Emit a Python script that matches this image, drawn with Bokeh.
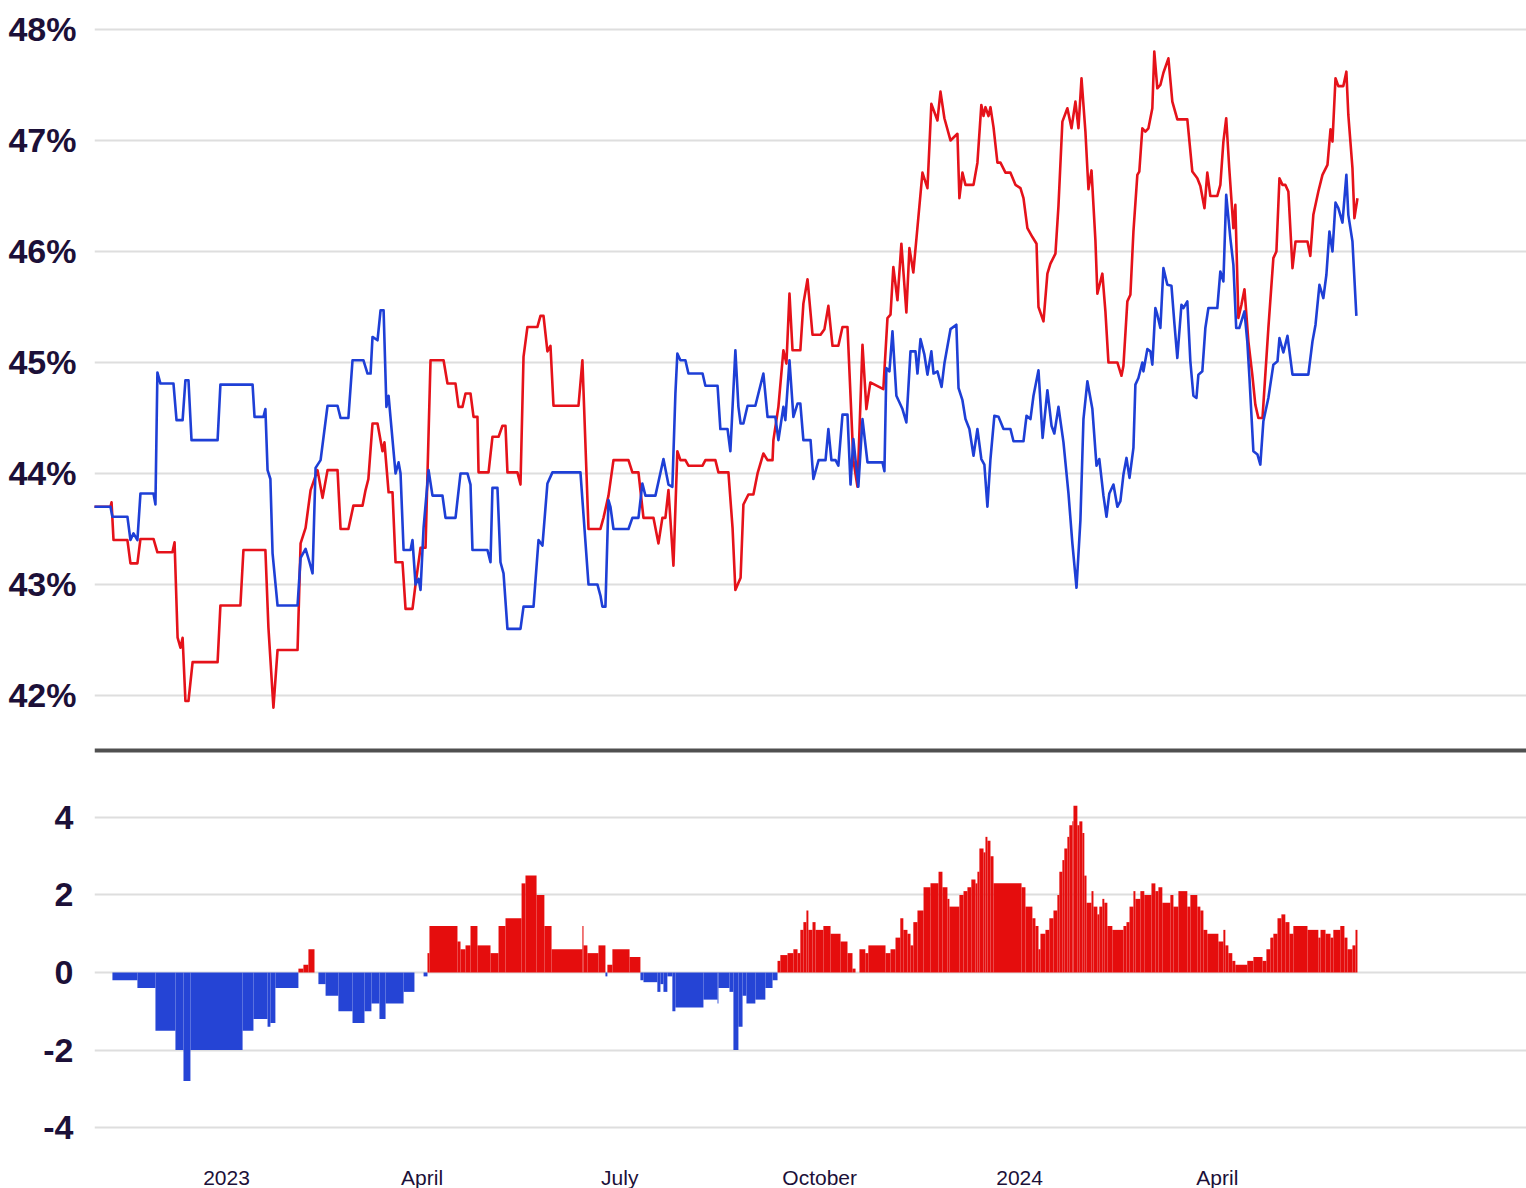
from bokeh.plotting import figure
from bokeh.models import ColumnDataSource, FixedTicker, Span, Range1d
from bokeh.layouts import column
from bokeh.embed import file_html
from bokeh.resources import INLINE

# ---- data (x = days since 2023-01-01) ----
red_days = [-61.2, -53.4, -52.9, -52.0, -45.6, -44.2, -41.0, -39.6, -33.6, -31.8, -24.9, -23.9, -22.5, -21.2,
            -20.2, -18.9, -17.5, -15.6, -4.1, -2.8, 6.4, 7.8, 17.9, 19.3, 21.6, 23.5, 32.7, 34.1, 36.4, 38.7,
            41.9, 44.2, 46.5, 51.1, 52.5, 56.1, 58.4, 62.6, 64.0, 65.3, 67.2, 69.5, 71.8, 72.7, 74.6, 76.4,
            77.8, 81.0, 82.4, 85.6, 87.0, 89.3, 91.6, 93.9, 99.9, 101.7, 105.4, 106.8, 108.6, 110.0, 112.3,
            113.7, 115.5, 116.0, 120.6, 122.4, 125.2, 127.0, 128.4, 129.3, 133.9, 135.3, 136.7, 138.5, 143.1,
            144.5, 145.9, 147.7, 149.1, 150.5, 162.0, 163.8, 166.6, 172.1, 173.5, 175.8, 178.1, 185.0, 186.8,
            189.6, 191.9, 196.5, 198.8, 200.6, 202.0, 203.4, 205.7, 207.5, 208.9, 211.2, 212.6, 219.1, 220.4,
            225.0, 226.4, 231.0, 232.9, 234.2, 236.6, 237.9, 240.2, 242.5, 244.4, 247.1, 249.0, 251.3, 251.7,
            254.0, 256.3, 257.7, 259.1, 260.5, 264.1, 265.5, 267.4, 269.7, 273.4, 275.2, 277.0, 278.9, 281.6,
            283.5, 285.8, 288.5, 290.4, 292.7, 294.5, 296.3, 302.3, 304.2, 305.6, 306.9, 308.8, 310.6, 312.9,
            314.3, 316.1, 320.3, 322.6, 324.4, 327.2, 328.6, 330.4, 333.2, 336.4, 337.3, 338.7, 340.1, 343.8,
            345.6, 347.4, 348.4, 349.3, 350.7, 351.6, 353.0, 354.8, 356.2, 358.5, 360.8, 363.1, 365.4, 366.8,
            368.6, 370.9, 372.8, 373.7, 376.0, 377.8, 379.2, 381.5, 382.9, 384.7, 387.0, 388.9, 390.7, 392.1,
            393.5, 395.3, 396.7, 398.1, 399.9, 400.8, 403.1, 404.5, 405.9, 410.0, 411.9, 412.8, 414.6, 416.0,
            417.4, 419.2, 420.1, 421.5, 422.9, 424.3, 426.1, 427.0, 428.4, 429.8, 431.2, 433.5, 435.3, 437.6,
            442.2, 444.5, 446.8, 448.2, 450.1, 451.4, 452.8, 456.0, 457.4, 458.8, 460.1, 461.5, 463.4, 464.3,
            465.7, 467.1, 468.5, 470.3, 472.1, 473.5, 474.9, 476.8, 478.1, 479.5, 481.8, 483.2, 484.6, 486.0,
            487.3, 488.7, 490.6, 492.0, 497.5, 498.8, 500.2, 502.5, 504.4, 506.7, 508.1, 509.0, 510.4, 511.7,
            514.0, 515.4, 516.3, 518.2, 519.1, 520.5]
red_pct = [43.70, 43.70, 43.74, 43.40, 43.40, 43.19, 43.19, 43.41, 43.41, 43.29, 43.29, 43.38, 42.52, 42.43,
           42.52, 41.95, 41.95, 42.30, 42.30, 42.81, 42.81, 43.31, 43.31, 42.61, 41.89, 42.41, 42.41, 43.37,
           43.51, 43.85, 44.03, 43.78, 44.03, 44.03, 43.50, 43.50, 43.71, 43.71, 43.85, 43.95, 44.45, 44.45,
           44.20, 44.28, 43.83, 43.83, 43.20, 43.20, 42.78, 42.78, 43.00, 43.33, 43.33, 45.02, 45.02, 44.81,
           44.81, 44.60, 44.60, 44.72, 44.72, 44.51, 44.51, 44.01, 44.01, 44.33, 44.33, 44.43, 44.43, 44.01,
           44.01, 43.90, 45.05, 45.32, 45.32, 45.42, 45.42, 45.10, 45.15, 44.61, 44.61, 45.02, 43.50, 43.50,
           43.60, 43.80, 44.12, 44.12, 44.01, 44.01, 43.60, 43.60, 43.37, 43.60, 43.60, 43.85, 43.17, 44.20,
           44.12, 44.12, 44.07, 44.07, 44.12, 44.12, 44.01, 44.01, 43.51, 42.95, 43.06, 43.72, 43.81, 43.81,
           44.00, 44.18, 44.12, 44.12, 44.30, 44.60, 45.11, 44.99, 45.62, 45.11, 45.11, 45.53, 45.75, 45.25,
           45.25, 45.30, 45.51, 45.15, 45.15, 45.32, 45.32, 44.12, 43.88, 45.16, 44.58, 44.82, 44.76, 45.40,
           45.43, 45.86, 45.56, 46.07, 45.45, 46.03, 45.81, 46.71, 46.57, 47.33, 47.18, 47.44, 47.20, 47.00,
           47.06, 46.48, 46.71, 46.60, 46.60, 46.80, 47.32, 47.22, 47.30, 47.22, 47.30, 47.12, 46.80, 46.80,
           46.71, 46.71, 46.60, 46.57, 46.48, 46.21, 46.13, 46.07, 45.50, 45.37, 45.80, 45.89, 45.98, 46.41,
           47.17, 47.29, 47.11, 47.35, 47.11, 47.56, 47.08, 46.56, 46.73, 46.10, 45.62, 45.80, 45.46, 45.00,
           45.00, 44.88, 44.97, 45.55, 45.61, 46.18, 46.69, 46.72, 47.11, 47.08, 47.11, 47.29, 47.80, 47.47,
           47.50, 47.61, 47.74, 47.35, 47.19, 47.19, 46.72, 46.66, 46.59, 46.39, 46.71, 46.50, 46.50, 46.60,
           46.99, 47.20, 46.75, 46.21, 46.42, 45.40, 45.52, 45.66, 45.19, 44.89, 44.62, 44.50, 44.50, 44.89,
           45.31, 45.94, 46.00, 46.66, 46.60, 46.60, 46.54, 45.85, 46.09, 46.09, 45.96, 46.33, 46.54, 46.69,
           46.78, 47.10, 46.99, 47.56, 47.49, 47.49, 47.62, 47.23, 46.75, 46.30, 46.48]

blue_days = [-61.2, -53.4, -52.5, -45.6, -44.2, -42.8, -41.0, -39.6, -33.6, -32.7, -31.8, -30.4, -24.4, -23.0,
             -20.2, -18.9, -17.5, -16.1, -4.1, -2.8, 12.0, 12.9, 17.0, 17.9, 18.9, 20.2, 21.2, 23.5, 32.7,
             34.1, 36.4, 38.2, 39.6, 41.0, 43.3, 46.5, 51.1, 52.5, 56.1, 58.0, 63.0, 64.9, 66.3, 67.2, 69.5,
             70.9, 72.3, 73.6, 74.6, 75.5, 77.8, 79.2, 80.1, 81.5, 84.7, 85.6, 87.0, 88.4, 89.3, 90.7, 93.0,
             94.8, 99.4, 100.8, 105.4, 107.7, 110.9, 112.3, 113.2, 120.1, 121.5, 122.4, 124.7, 126.1, 127.5,
             129.3, 135.3, 136.7, 141.3, 143.6, 145.4, 147.7, 150.0, 162.9, 166.6, 170.7, 172.1, 173.0, 174.4,
             175.8, 176.7, 178.1, 185.0, 186.8, 189.6, 191.4, 192.8, 197.4, 201.1, 203.4, 205.2, 206.6, 207.5,
             208.9, 211.2, 212.6, 219.1, 220.4, 226.0, 227.3, 230.6, 231.9, 234.2, 235.6, 236.6, 237.9, 239.8,
             243.4, 244.8, 247.1, 249.0, 252.6, 254.0, 256.3, 257.2, 259.1, 260.9, 262.8, 264.1, 265.5, 268.8,
             270.1, 272.5, 275.7, 277.0, 278.4, 280.3, 281.6, 283.5, 285.8, 287.2, 288.5, 290.8, 292.7, 295.0,
             301.9, 302.8, 303.7, 305.1, 306.5, 308.3, 311.1, 312.9, 314.8, 317.1, 318.0, 319.4, 321.2, 322.6,
             324.4, 325.4, 327.2, 329.1, 330.4, 333.2, 335.9, 336.9, 338.7, 340.1, 341.9, 343.8, 345.6, 347.4,
             348.8, 350.2, 351.6, 353.4, 355.3, 357.6, 360.8, 362.2, 366.8, 368.2, 370.0, 371.4, 373.7, 375.6,
             377.8, 379.7, 381.0, 382.9, 385.2, 387.5, 389.3, 391.2, 393.0, 394.4, 396.2, 398.5, 400.4, 401.7,
             403.6, 405.0, 406.3, 408.2, 410.0, 411.4, 412.8, 414.2, 415.6, 417.4, 418.3, 419.7, 421.5, 422.0,
             423.8, 425.2, 426.1, 427.5, 428.4, 429.8, 431.2, 433.0, 434.9, 436.3, 437.6, 439.5, 440.4, 442.2,
             443.6, 445.0, 446.4, 447.3, 449.1, 450.5, 451.9, 456.0, 457.4, 458.8, 460.1, 462.0, 463.4, 464.7,
             466.1, 468.5, 469.8, 470.8, 472.6, 474.5, 475.8, 477.2, 479.5, 481.8, 483.7, 484.6, 486.4, 488.3,
             490.6, 497.9, 499.8, 501.2, 503.0, 504.8, 506.2, 507.6, 509.0, 510.4, 511.7, 513.6, 515.4, 516.3,
             518.2, 520.0]
blue_pct = [43.70, 43.70, 43.61, 43.61, 43.40, 43.46, 43.40, 43.82, 43.82, 43.72, 44.91, 44.81, 44.81, 44.48,
            44.48, 44.84, 44.84, 44.30, 44.30, 44.80, 44.80, 44.51, 44.51, 44.58, 44.03, 43.95, 43.28, 42.81,
            42.81, 43.24, 43.32, 43.20, 43.10, 44.05, 44.12, 44.61, 44.61, 44.50, 44.50, 45.02, 45.02, 44.90,
            44.90, 45.23, 45.20, 45.47, 45.47, 44.60, 44.70, 44.50, 44.00, 44.10, 44.00, 43.31, 43.31, 43.40,
            43.00, 43.05, 42.95, 43.51, 44.03, 43.80, 43.80, 43.60, 43.60, 44.00, 44.00, 43.90, 43.31, 43.31,
            43.20, 43.87, 43.87, 43.20, 43.10, 42.60, 42.60, 42.80, 42.80, 43.40, 43.35, 43.91, 44.01, 44.01,
            43.00, 43.00, 42.90, 42.80, 42.80, 43.76, 43.70, 43.50, 43.50, 43.60, 43.60, 43.91, 43.80, 43.80,
            44.13, 43.90, 43.88, 44.72, 45.08, 45.02, 45.02, 44.90, 44.90, 44.79, 44.79, 44.40, 44.40, 44.20,
            45.11, 44.60, 44.45, 44.45, 44.61, 44.61, 44.72, 44.90, 44.51, 44.51, 44.30, 44.60, 44.48, 45.02,
            44.51, 44.63, 44.63, 44.30, 44.30, 43.95, 44.12, 44.12, 44.40, 44.12, 44.12, 44.07, 44.53, 44.53,
            43.90, 44.31, 43.88, 44.49, 44.10, 44.10, 44.02, 44.95, 44.92, 45.28, 44.70, 44.58, 44.46, 45.10,
            45.10, 44.90, 45.21, 45.07, 44.89, 45.10, 44.90, 44.92, 44.78, 44.99, 45.30, 45.34, 44.77, 44.66,
            44.49, 44.40, 44.16, 44.40, 44.13, 44.08, 43.70, 44.13, 44.52, 44.51, 44.40, 44.40, 44.29, 44.29,
            44.52, 44.49, 44.70, 44.93, 44.32, 44.75, 44.43, 44.36, 44.60, 44.28, 43.82, 43.37, 42.97, 43.58,
            44.49, 44.83, 44.58, 44.07, 44.13, 43.80, 43.61, 43.82, 43.90, 43.70, 43.75, 43.99, 44.14, 43.96,
            44.23, 44.80, 44.86, 45.00, 44.92, 45.12, 45.10, 44.98, 45.49, 45.43, 45.31, 45.85, 45.70, 45.69,
            45.34, 45.04, 45.52, 45.49, 45.55, 45.01, 44.70, 44.68, 44.89, 44.92, 45.31, 45.49, 45.49, 45.82,
            45.73, 46.51, 46.12, 45.88, 45.31, 45.31, 45.46, 45.19, 44.86, 44.20, 44.17, 44.08, 44.47, 44.68,
            44.98, 45.01, 45.22, 45.09, 45.24, 44.89, 44.89, 45.19, 45.34, 45.70, 45.58, 45.79, 46.18, 46.00,
            46.44, 46.39, 46.26, 46.69, 46.33, 46.09, 45.42]

# margin bars (red minus blue, points); runs from bar_start to bar_end
bar_start = [-52.5, -41.0, -32.7, -23.5, -19.8, -16.6, 7.4, 12.4, 18.9, 20.2, 22.5, 33.1, 35.4, 37.7, 42.3,
             45.6, 51.5, 58.0, 63.5, 66.7, 70.4, 73.2, 81.5, 90.7, 92.5, 93.4, 106.3, 107.7, 110.0, 112.3,
             115.5, 121.5, 125.2, 128.4, 135.8, 137.6, 142.7, 146.3, 149.6, 163.8, 164.3, 166.1, 171.2, 174.4,
             175.3, 177.6, 185.5, 190.5, 191.9, 198.3, 199.7, 201.1, 202.9, 205.2, 206.6, 219.5, 226.0, 226.4,
             231.5, 233.3, 235.6, 237.5, 239.3, 243.4, 248.0, 251.3, 253.6, 254.9, 258.2, 260.9, 262.8, 264.1,
             265.5, 266.9, 267.8, 269.7, 271.1, 274.7, 278.0, 282.6, 285.8, 288.1, 291.3, 294.0, 295.4, 303.3,
             305.6, 307.9, 310.1, 311.5, 313.4, 314.8, 316.1, 318.0, 320.8, 324.0, 327.7, 329.5, 331.8, 332.7,
             337.3, 339.2, 341.0, 342.8, 344.7, 345.6, 346.5, 348.4, 349.3, 350.2, 351.6, 353.0, 365.9, 367.7,
             370.9, 372.3, 373.7, 374.6, 376.9, 378.7, 380.6, 382.4, 383.3, 384.7, 385.6, 387.0, 387.9, 389.3,
             389.8, 391.6, 392.5, 393.9, 394.8, 395.8, 398.1, 399.0, 400.8, 401.7, 403.1, 404.0, 405.4, 407.7,
             412.8, 414.2, 415.6, 417.4, 418.3, 420.6, 422.4, 425.7, 427.5, 428.9, 430.7, 434.4, 435.8, 438.1,
             442.2, 443.6, 446.8, 448.2, 449.6, 451.4, 456.5, 458.8, 459.7, 461.1, 462.9, 464.3, 469.8, 472.6,
             476.8, 478.6, 480.4, 481.8, 483.7, 485.5, 487.3, 489.2, 491.0, 497.5, 502.5, 503.5, 505.8, 508.1,
             509.4, 512.6, 514.5, 515.9, 518.2, 519.6]
bar_end = [-41.0, -32.7, -23.5, -19.8, -16.6, 7.4, 12.4, 18.9, 20.2, 22.5, 33.1, 35.4, 37.7, 40.5, 45.6,
           51.5, 58.0, 63.5, 66.7, 70.4, 73.2, 81.5, 86.5, 92.5, 93.4, 106.3, 107.7, 110.0, 112.3, 115.5,
           121.5, 125.2, 128.4, 135.8, 137.6, 142.7, 146.3, 149.6, 163.8, 164.3, 166.1, 171.2, 174.4, 175.3,
           177.6, 185.5, 190.5, 191.9, 198.3, 199.7, 201.1, 202.9, 205.2, 206.6, 219.5, 226.0, 226.4, 231.5,
           233.3, 235.6, 237.5, 239.3, 243.4, 248.0, 251.3, 253.6, 254.9, 258.2, 260.9, 262.8, 264.1, 265.5,
           266.9, 267.8, 269.7, 271.1, 274.7, 278.0, 282.6, 285.8, 288.1, 289.5, 294.0, 295.4, 303.3, 305.6,
           307.9, 310.1, 311.5, 313.4, 314.8, 316.1, 318.0, 320.8, 324.0, 327.7, 329.5, 331.8, 332.7, 337.3,
           339.2, 341.0, 342.8, 344.7, 345.6, 346.5, 348.4, 349.3, 350.2, 351.6, 353.0, 365.9, 367.7, 370.9,
           372.3, 373.7, 374.6, 376.9, 378.7, 380.6, 382.4, 383.3, 384.7, 385.6, 387.0, 387.9, 389.3, 389.8,
           391.6, 392.5, 393.9, 394.8, 395.8, 398.1, 399.0, 400.8, 401.7, 403.1, 404.0, 405.4, 407.7, 412.8,
           414.2, 415.6, 417.4, 418.3, 420.6, 422.4, 425.7, 427.5, 428.9, 430.7, 434.4, 435.8, 438.1, 442.2,
           443.6, 446.8, 448.2, 449.6, 451.4, 456.5, 458.8, 459.7, 461.1, 462.9, 464.3, 469.8, 472.6, 476.8,
           478.6, 480.4, 481.8, 483.7, 485.5, 487.3, 489.2, 491.0, 497.5, 502.5, 503.5, 505.8, 508.1, 509.4,
           512.6, 514.5, 515.9, 518.2, 519.6, 520.5]
bar_margin = [-0.2, -0.4, -1.5, -2.0, -2.8, -2.0, -1.5, -1.2, -1.4, -1.3, -0.4, 0.1, 0.2, 0.6, -0.3,
              -0.6, -1.0, -1.3, -1.0, -0.8, -1.2, -0.8, -0.5, -0.1, 0.5, 1.2, 0.8, 0.6, 0.7, 1.2,
              0.7, 0.5, 1.2, 1.4, 2.3, 2.5, 2.0, 1.2, 0.6, 1.2, 0.7, 0.5, 0.7, -0.1,
              0.2, 0.6, 0.4, -0.2, -0.25, -0.5, -0.3, -0.5, -0.1, -1.0, -0.9, -0.7, -0.8, -0.4,
              -0.5, -2.0, -1.4, -0.6, -0.8, -0.7, -0.4, -0.2, 0.3, 0.45, 0.5, 0.6, 0.5, 1.1,
              1.3, 1.6, 1.1, 1.3, 1.1, 1.2, 1.0, 0.8, 0.5, 0.1, 0.6, 0.5, 0.7, 0.5,
              0.6, 0.9, 1.4, 1.1, 1.0, 0.7, 1.3, 1.6, 2.2, 2.3, 2.6, 2.2, 1.9, 1.7,
              2.0, 2.1, 2.2, 2.4, 2.3, 2.6, 3.2, 3.1, 3.5, 3.4, 3.0, 2.3, 2.2, 1.7,
              1.4, 1.2, 0.6, 1.0, 1.1, 1.4, 1.6, 2.0, 2.6, 2.9, 3.2, 3.5, 3.8, 3.9,
              4.3, 3.8, 3.9, 3.6, 2.5, 1.8, 2.1, 1.7, 1.5, 1.7, 1.9, 1.8, 1.2, 1.1,
              1.2, 1.3, 1.7, 2.1, 1.9, 2.1, 2.0, 2.3, 2.1, 2.2, 1.8, 2.0, 1.7, 2.1,
              1.7, 2.0, 1.7, 1.6, 1.1, 1.0, 0.8, 1.1, 0.7, 0.5, 0.3, 0.2, 0.3, 0.4,
              0.3, 0.6, 0.9, 1.0, 1.4, 1.5, 1.3, 1.0, 1.2, 1.1, 0.9, 1.1, 1.0, 0.9,
              1.1, 1.2, 0.9, 0.6, 0.7, 1.1]

month_ticks = [0, 90, 181, 273, 365, 456]
month_labels = ["2023", "April", "July", "October", "2024", "April"]
pct_ticks = [42, 43, 44, 45, 46, 47, 48]
margin_ticks = [-4, -2, 0, 2, 4]

# ---- styling ----
RED = "#e5121a"
BLUE = "#1e3fd6"
RED_BAR = "#e50d0d"
BLUE_BAR = "#2544d5"
TXT = "#1c1038"
GRID = "#dedede"
FONT = "Liberation Sans"

X0, X1 = -60.75, 598.3   # 1432 px frame


def style_common(p):
    p.outline_line_color = None
    p.background_fill_color = "white"
    p.border_fill_color = "white"
    p.xgrid.visible = False
    p.ygrid.grid_line_color = GRID
    p.ygrid.grid_line_width = 2
    for ax in p.yaxis:
        ax.axis_line_color = None
        ax.major_tick_line_color = None
        ax.minor_tick_line_color = None
        ax.major_label_text_font = FONT
        ax.major_label_text_font_style = "bold"
        ax.major_label_text_font_size = "34px"
        ax.major_label_text_color = TXT
        ax.major_label_standoff = 12


top = figure(frame_width=1432, frame_height=747, min_border_left=94, min_border_right=0,
             min_border_top=0, min_border_bottom=0,
             x_range=Range1d(X0, X1), y_range=Range1d(41.531, 48.261),
             output_backend="svg", toolbar_location=None)
style_common(top)
top.xaxis.visible = False
top.yaxis.ticker = FixedTicker(ticks=pct_ticks)
top.ygrid.ticker = FixedTicker(ticks=pct_ticks)
top.yaxis.major_label_overrides = {t: f"{t}%" for t in pct_ticks}

top.line(red_days, red_pct, line_color=RED, line_width=2.6, line_join="round")
top.line(blue_days, blue_pct, line_color=BLUE, line_width=2.6, line_join="round")

bot = figure(frame_width=1432, frame_height=393, min_border_left=94, min_border_right=0,
             min_border_top=0, min_border_bottom=0,
             x_range=Range1d(X0, X1), y_range=Range1d(-4.335, 5.806),
             output_backend="svg", toolbar_location=None)
style_common(bot)
bot.yaxis.ticker = FixedTicker(ticks=margin_ticks)
bot.ygrid.ticker = FixedTicker(ticks=margin_ticks)
bot.yaxis.major_label_overrides = {t: str(t) for t in margin_ticks}
bot.yaxis.major_label_standoff = 15

xa = bot.xaxis[0]
xa.ticker = FixedTicker(ticks=month_ticks)
xa.major_label_overrides = dict(zip(month_ticks, month_labels))
xa.axis_line_color = None
xa.major_tick_line_color = None
xa.minor_tick_line_color = None
xa.major_label_text_font = FONT
xa.major_label_text_font_size = "21px"
xa.major_label_text_color = TXT
xa.major_label_standoff = 19

bar_colors = [RED_BAR if m > 0 else BLUE_BAR for m in bar_margin]
src = ColumnDataSource(dict(left=bar_start, right=bar_end, top=bar_margin,
                            bottom=[0] * len(bar_margin), color=bar_colors))
bot.quad(left="left", right="right", top="top", bottom="bottom", source=src,
         fill_color="color", line_color=None)

bot.add_layout(Span(location=5.729, dimension="width", line_color="#505050", line_width=4))

layout = column(top, bot, spacing=0)
open("out.html", "w").write(file_html(layout, INLINE))
